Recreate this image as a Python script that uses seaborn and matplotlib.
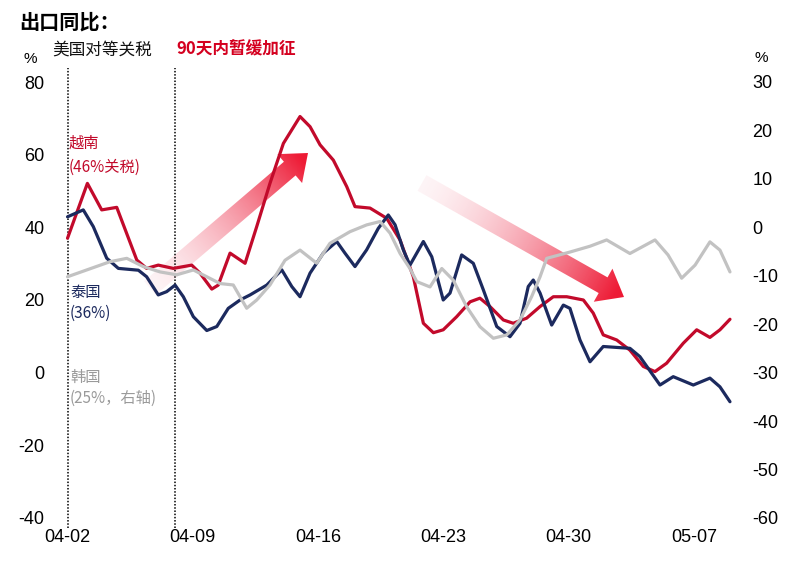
import numpy as np
import pandas as pd
import matplotlib
matplotlib.use("Agg")
import matplotlib.pyplot as plt
from matplotlib.patches import Polygon
import seaborn as sns

# ---------------- data ----------------
tick_days = [0, 7, 14, 21, 28, 35]
tick_labels = ["04-02", "04-09", "04-16", "04-23", "04-30", "05-07"]
left_ticks = [80, 60, 40, 20, 0, -20, -40]
right_ticks = [30, 20, 10, 0, -10, -20, -30, -40, -50, -60]
event_days = [0, 6]

vn_day = [0, 1.11, 1.91, 2.75, 3.87, 4.42, 5.07, 5.91, 6.94, 7.40, 8.06, 8.42, 9.08, 9.92,
          10.57, 11.31, 12.06, 12.99, 13.55, 14.11, 14.85, 15.60, 16.06, 16.90, 17.83, 18.58,
          19.32, 19.88, 20.44, 20.99, 21.74, 22.49, 23.04, 23.60, 24.35, 24.90, 25.65, 26.40,
          27.14, 27.89, 28.82, 29.37, 29.93, 30.68, 31.42, 32.17, 32.82, 33.47, 34.40, 35.15,
          35.89, 36.45, 37.01]
vn_val = [37.0, 52.1, 44.8, 45.5, 31.0, 28.7, 29.6, 28.7, 29.6, 27.4, 23.0, 24.1, 32.9, 30.1,
          40.2, 52.1, 63.1, 70.5, 67.7, 62.7, 58.5, 51.2, 45.7, 45.3, 42.5, 36.5,
          26.4, 13.6, 11.0, 11.8, 15.4, 19.5, 20.5, 18.2, 14.5, 13.6, 15.0, 18.2,
          20.9, 20.9, 20.0, 16.4, 10.4, 9.0, 6.2, 1.7, 0.3, 2.6, 8.1, 11.8,
          9.7, 11.8, 14.7]

th_day = [0, 0.88, 1.44, 2.19, 2.84, 3.96, 4.42, 5.07, 5.54, 6.01, 6.47, 7.03, 7.78, 8.34,
          8.98, 9.64, 10.20, 11.13, 11.97, 12.53, 12.99, 13.55, 14.29, 15.04, 15.50, 16.06,
          16.71, 17.36, 17.92, 18.30, 18.76, 19.13, 19.88, 20.35, 20.99, 21.37, 22.02, 22.67,
          23.23, 23.98, 24.72, 25.28, 25.74, 26.02, 26.40, 27.05, 27.70, 28.07, 28.63, 29.19,
          29.93, 31.42, 31.98, 32.64, 33.10, 33.84, 34.96, 35.89, 36.45, 37.01]
th_val = [42.9, 44.8, 40.2, 31.5, 28.7, 28.2, 26.4, 21.4, 22.3, 24.1, 20.9, 15.4, 11.6, 12.7,
          17.7, 20.0, 21.4, 24.1, 28.3, 23.7, 20.9, 27.4, 32.9, 36.1, 32.9, 29.2,
          33.8, 39.7, 43.4, 40.7, 33.8, 29.6, 36.1, 31.9, 20.0, 21.9, 32.4, 30.1,
          22.8, 12.7, 9.9, 13.6, 23.7, 25.5, 21.9, 13.1, 18.6, 17.7, 9.0, 3.0,
          7.2, 6.7, 4.4, -0.2, -3.4, -1.1, -3.4, -1.5, -3.9, -8.0]

kr_day = [0, 1.07, 2.37, 3.31, 4.23, 5.17, 6.10, 7.03, 7.78, 8.52, 9.26, 10.01, 10.57, 11.31,
          12.15, 12.99, 13.92, 14.66, 15.78, 16.71, 17.46, 18.02, 18.58, 19.13, 19.51, 20.25,
          20.91, 21.55, 22.30, 23.04, 23.79, 24.54, 25.28, 25.93, 26.40, 26.77, 28.07, 29.19,
          30.12, 31.42, 32.82, 33.55, 34.31, 35.06, 35.89, 36.45, 37.01]
kr_val = [-10.2, -8.8, -7.1, -6.4, -8.1, -9.2, -9.8, -8.8, -10.2, -11.6, -11.9, -16.7, -15.0, -11.9,
          -6.8, -4.7, -7.4, -3.3, -0.9, 0.5, 1.2, -1.2, -5.4, -8.5, -11.2, -12.3,
          -8.5, -10.9, -16.4, -20.5, -22.9, -22.2, -19.1, -14.3, -10.2, -6.4, -5.1, -3.9,
          -2.6, -5.4, -2.6, -5.7, -10.5, -7.8, -3.0, -4.7, -9.2]

# ---------------- style ----------------
sns.set_theme(style="white")
plt.rcParams["font.family"] = ["Liberation Sans", "Noto Sans CJK SC", "DejaVu Sans"]
CJK = ["Noto Sans CJK SC", "DejaVu Sans"]

RED = "#C20A2B"
NAVY = "#1C2A5E"
GRAY = "#C2C2C2"

W, H = 800, 567
fig = plt.figure(figsize=(W / 100, H / 100), dpi=100)
fig.patch.set_facecolor("white")

# background axes in pixel coordinates for decorations
bg = fig.add_axes([0, 0, 1, 1], zorder=0)
bg.set_xlim(0, W)
bg.set_ylim(H, 0)
bg.axis("off")

ax = fig.add_axes([60 / W, 49 / H, 680 / W, 436 / H], zorder=1)
ax.patch.set_alpha(0)

# gradient arrows (decorations)
def grad_arrow(x0, y0, x1, y1, body_hw=9, head_hw=19, head_len=24):
    p0 = np.array([x0, y0], float)
    p1 = np.array([x1, y1], float)
    d = p1 - p0
    L = np.hypot(*d)
    u = d / L
    n = np.array([-u[1], u[0]])
    b = p1 - u * head_len
    poly = np.array([p0 + n * body_hw, b + n * body_hw, b + n * head_hw, p1,
                     b - n * head_hw, b - n * body_hw, p0 - n * body_hw])
    xmin, ymin = poly.min(axis=0) - 2
    xmax, ymax = poly.max(axis=0) + 2
    xs = np.linspace(xmin, xmax, 300)
    ys = np.linspace(ymin, ymax, 300)
    X, Y = np.meshgrid(xs, ys)
    t = ((X - x0) * u[0] + (Y - y0) * u[1]) / L
    t = np.clip(t, 0, 1)
    img = np.zeros(X.shape + (4,))
    img[..., 0] = 0.93
    img[..., 1] = 0.05 + 0.25 * (1 - t)
    img[..., 2] = 0.16 + 0.25 * (1 - t)
    img[..., 3] = np.clip(0.06 + 0.95 * t ** 1.4, 0, 0.95)
    im = bg.imshow(img, extent=(xmin, xmax, ymax, ymin), origin="upper",
                   interpolation="bilinear", aspect="auto", zorder=1)
    patch = Polygon(poly, closed=True, transform=bg.transData, facecolor="none", edgecolor="none")
    bg.add_patch(patch)
    im.set_clip_path(patch)

grad_arrow(150, 288, 308, 153)
grad_arrow(422, 183, 624, 297)
bg.set_xlim(0, W)
bg.set_ylim(H, 0)

# lines
df_vn = pd.DataFrame({"day": vn_day, "value": vn_val})
df_th = pd.DataFrame({"day": th_day, "value": th_val})
df_kr = pd.DataFrame({"day": kr_day, "value": kr_val})

line_kw = dict(lw=2.3, estimator=None, sort=False, solid_joinstyle="round", solid_capstyle="round")
sns.lineplot(data=df_vn, x="day", y="value", ax=ax, color=RED, zorder=3, **line_kw)
sns.lineplot(data=df_th, x="day", y="value", ax=ax, color=NAVY, zorder=3, **line_kw)

ax2 = ax.twinx()
sns.lineplot(data=df_kr, x="day", y="value", ax=ax2, color=GRAY, zorder=2, **line_kw)
ax2.patch.set_alpha(0)

for d in event_days:
    ax.axvline(d, ymin=-0.023, ymax=1.032, color="black", lw=1.1, ls=(0, (1, 1.1)), clip_on=False, zorder=2)

ax.set_xlim(-0.42, 37.57)
ax.set_ylim(-40, 80)
ax2.set_ylim(-60, 30)
ax.set_xticks(tick_days)
ax.set_xticklabels(tick_labels)
ax.set_yticks(left_ticks)
ax.set_yticklabels([str(v) for v in left_ticks])
ax2.set_yticks(right_ticks)
ax2.set_yticklabels([str(v) for v in right_ticks])
for a in (ax, ax2):
    a.set_xlabel("")
    a.set_ylabel("")
    a.grid(False)
    for s in a.spines.values():
        s.set_visible(False)
ax.tick_params(axis="x", length=0, pad=8, labelsize=13, colors="black")
ax.tick_params(axis="y", length=0, pad=11, labelsize=13, colors="black")
ax2.tick_params(axis="y", length=0, pad=9, labelsize=13, colors="black")

# texts
bg.text(19, 22, "出口同比：", family=CJK, fontsize=14.5, fontweight="bold", ha="left", va="center", color="black")
bg.text(52, 50, "美国对等关税", family=CJK, fontsize=12, ha="left", va="center", color="#111111")
bg.text(176, 50, "90天内暂缓加征", family=CJK, fontsize=12, fontweight="bold", ha="left", va="center", color="#D4001F")
bg.text(30, 59, "%", fontsize=11, ha="center", va="center", color="black")
bg.text(761, 58, "%", fontsize=11, ha="center", va="center", color="black")

bg.text(69, 143, "越南", family=CJK, fontsize=11, ha="left", va="center", color=RED)
bg.text(69, 167, "(46%关税)", family=CJK, fontsize=11, ha="left", va="center", color=RED)
bg.text(70, 292, "泰国", family=CJK, fontsize=11, ha="left", va="center", color=NAVY)
bg.text(70, 313, "(36%)", family=CJK, fontsize=11, ha="left", va="center", color=NAVY)
bg.text(70, 377, "韩国", family=CJK, fontsize=11, ha="left", va="center", color="#9A9A9A")
bg.text(70, 398, "(25%，右轴)", family=CJK, fontsize=11, ha="left", va="center", color="#9A9A9A")

fig.savefig("out.png", dpi=100)
